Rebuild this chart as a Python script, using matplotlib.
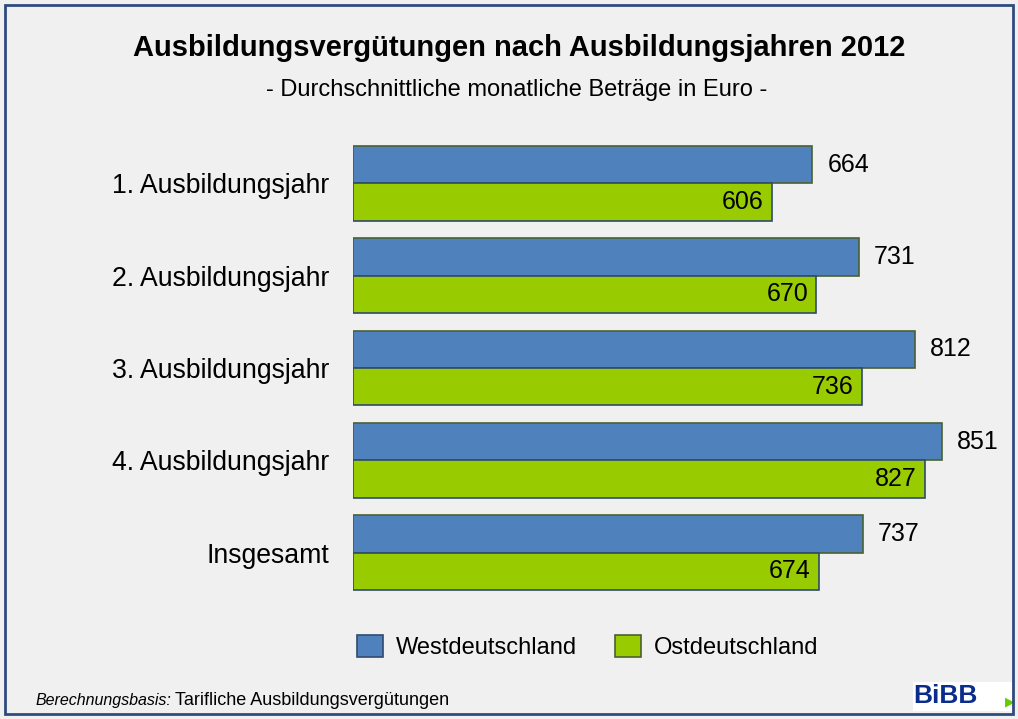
import matplotlib.pyplot as plt
import numpy as np
from matplotlib.patches import Rectangle, Patch

plt.rcParams['font.family'] = ['Liberation Sans', 'DejaVu Sans']

categories = ["1. Ausbildungsjahr", "2. Ausbildungsjahr", "3. Ausbildungsjahr",
              "4. Ausbildungsjahr", "Insgesamt"]
west = [664, 731, 812, 851, 737]
ost = [606, 670, 736, 827, 674]
series_names = ["Westdeutschland", "Ostdeutschland"]

blue = "#4f81bd"
green = "#99cc00"

fig = plt.figure(figsize=(10.18, 7.19), dpi=100)
fig.patch.set_facecolor("#f0f0f0")

# frame around the whole chart
fig.patches.append(Rectangle((5 / 1018, 5 / 719), 1008 / 1018, 709 / 719,
                             transform=fig.transFigure, fill=False,
                             edgecolor="#2f4b7c", linewidth=2, zorder=10))

ax = fig.add_axes([353 / 1018, 1 - 599 / 719, 657 / 1018, 462 / 719])
ax.set_facecolor("none")

y = np.arange(len(categories))
h = 0.404
ax.barh(y - h / 2, west, height=h, color=blue, edgecolor="#4a6030", linewidth=1.2)
ax.barh(y + h / 2, ost, height=h, color=green, edgecolor="#2f4b6e", linewidth=1.2)

for i in range(len(categories)):
    ax.text(west[i] + 22, y[i] - h / 2, str(west[i]), ha="left", va="center", fontsize=18)
    ax.text(ost[i] - 12, y[i] + h / 2, str(ost[i]), ha="right", va="center", fontsize=18)

ax.set_xlim(0, 950)
ax.set_ylim(4.5, -0.5)
ax.set_xticks([])
ax.set_yticks(y)
ax.set_yticklabels(categories, fontsize=19.2)
ax.tick_params(axis="y", length=0, pad=17)
for s in ax.spines.values():
    s.set_visible(False)

fig.text(519 / 1018, 1 - 48 / 719, "Ausbildungsvergütungen nach Ausbildungsjahren 2012",
         ha="center", va="center", fontsize=21, fontweight="bold")
fig.text(517 / 1018, 1 - 90 / 719, "- Durchschnittliche monatliche Beträge in Euro -",
         ha="center", va="center", fontsize=17)

handles = [Patch(facecolor=blue, edgecolor="#2f4b6e", linewidth=1.2),
           Patch(facecolor=green, edgecolor="#4a6030", linewidth=1.2)]
fig.legend(handles, series_names, loc="center", bbox_to_anchor=(588 / 1018, 1 - 647 / 719),
           ncol=2, frameon=False, fontsize=17, handlelength=1.1, handleheight=1.1,
           handletextpad=0.55, columnspacing=1.6)

fig.text(35 / 1018, 1 - 705 / 719, "Berechnungsbasis:", ha="left", va="baseline",
         fontsize=11.5, style="italic")
fig.text(175 / 1018, 1 - 705 / 719, "Tarifliche Ausbildungsvergütungen", ha="left",
         va="baseline", fontsize=13)

# BIBB logo
fig.patches.append(Rectangle((913 / 1018, 1 - 711 / 719), 99 / 1018, 29 / 719,
                             transform=fig.transFigure, facecolor="white",
                             edgecolor="none", zorder=2))
fig.text(945 / 1018, 1 - 696 / 719, "BiBB", ha="center", va="center", fontsize=19,
         fontweight="bold", color="#0a2d8c", zorder=3)
fig.text(1010 / 1018, 1 - 702 / 719, "\u25b6", ha="center", va="center", fontsize=9,
         color="#66cc00", family=["DejaVu Sans"], zorder=3)

fig.savefig("out.png", dpi=100, facecolor=fig.get_facecolor())
